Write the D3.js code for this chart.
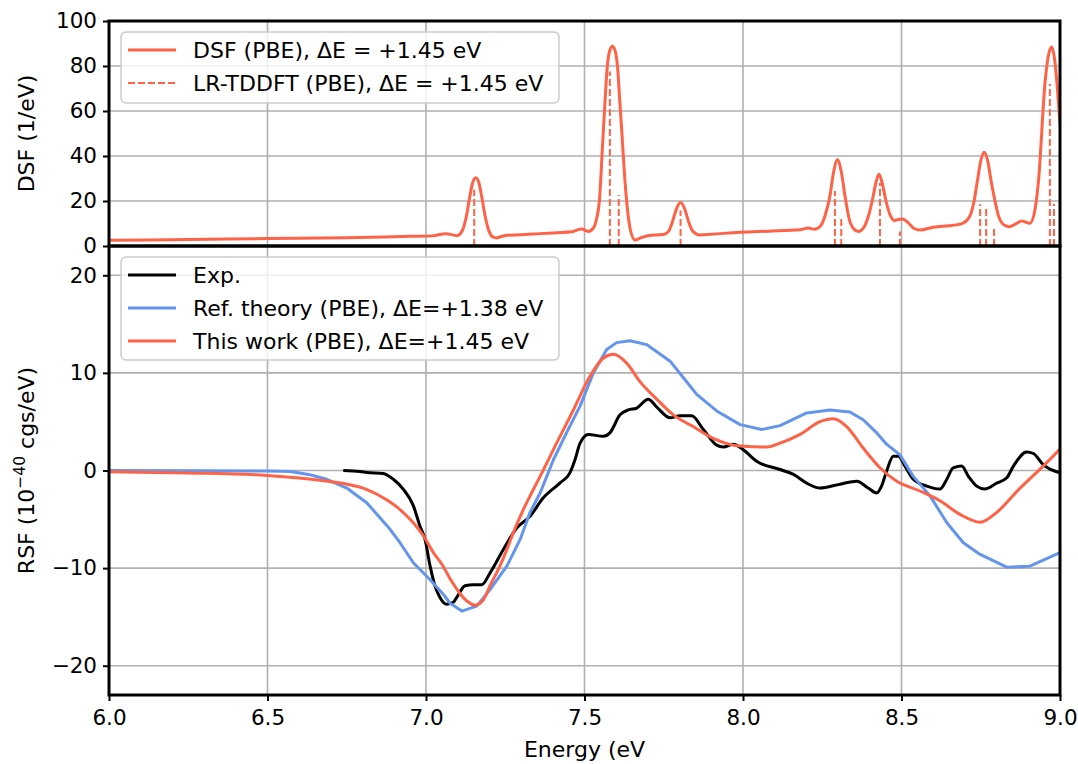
<!DOCTYPE html>
<html>
<head>
<meta charset="utf-8">
<script src="https://cdnjs.cloudflare.com/ajax/libs/d3/7.8.5/d3.min.js"></script>
<style>
  html, body { margin: 0; padding: 0; background: #fff; }
  svg { display: block; font-family: "DejaVu Sans", sans-serif; }
</style>
</head>
<body>
<svg id="chart" width="1078" height="764"></svg>
<script>
// ---------- DATA ----------
const xTicks = [6.0, 6.5, 7.0, 7.5, 8.0, 8.5, 9.0];
const dsfTicks = [0, 20, 40, 60, 80, 100];
const rsfTicks = [-20, -10, 0, 10, 20];

// DSF (PBE) curve, top panel [energy, DSF]
const dsfCurve = [
  [6.00,2.5],[6.25,2.9],[6.50,3.3],[6.75,3.7],[6.95,4.3],[7.02,4.5],[7.063,5.5],[7.098,4.6],
  [7.115,7],[7.127,13],[7.137,21],[7.147,28],[7.157,30.3],[7.167,28],[7.177,21],[7.187,13],
  [7.199,6.5],[7.212,3.9],[7.222,3.6],[7.24,4.3],[7.256,4.8],[7.30,5.0],[7.36,5.5],[7.414,5.9],
  [7.46,6.3],[7.49,7.6],[7.512,6.5],[7.528,8],[7.538,12],[7.547,20],[7.557,45],[7.565,65],
  [7.572,80],[7.580,87],[7.588,88.8],[7.596,87],[7.604,80],[7.611,65],[7.619,48],[7.627,30],
  [7.635,17],[7.645,7],[7.659,2.7],[7.68,3.8],[7.70,4.6],[7.749,5.1],[7.765,6.5],[7.778,11],
  [7.790,16.5],[7.803,19.3],[7.816,16.5],[7.828,11],[7.842,6.5],[7.864,4.9],[7.90,5.2],
  [7.99,6.1],[8.08,6.6],[8.18,7.2],[8.205,8.0],[8.225,7.4],[8.245,9],[8.260,14],[8.274,22],
  [8.286,33],[8.298,38.3],[8.310,33],[8.322,22],[8.335,12],[8.350,7.5],[8.364,6.4],[8.380,8],
  [8.395,13],[8.409,21],[8.419,28],[8.429,31.9],[8.439,28],[8.451,20],[8.465,13.5],[8.478,11.3],
  [8.49,11.8],[8.503,12],[8.52,10.5],[8.54,7.8],[8.558,7.1],[8.60,8.3],[8.65,9.0],[8.674,9.4],
  [8.695,10.2],[8.716,13.4],[8.729,20],[8.739,28.6],[8.750,37.8],[8.761,41.7],[8.772,37.8],
  [8.783,28.6],[8.795,20],[8.806,13.4],[8.825,9.2],[8.84,8.6],[8.86,9.8],[8.879,11.1],
  [8.905,10.1],[8.918,14],[8.932,28.6],[8.953,73],[8.964,85],[8.974,88.5],[8.983,83],
  [8.990,73],[9.0,54]
];

// LR-TDDFT sticks [energy, height]
const tddftSticks = [
  [7.152,25],[7.580,77.6],[7.608,22.7],[7.803,15.8],[8.290,24.5],[8.310,12.6],[8.432,28],
  [8.495,6.4],[8.748,18.6],[8.767,16.8],[8.792,8.5],[8.968,72],[8.981,18.8]
];

// Experimental RSF
const expRSF = [
  [6.739,0],[6.792,-0.1],[6.813,-0.2],[6.865,-0.3],[6.897,-0.9],[6.928,-1.9],[6.96,-3.6],
  [6.981,-5.7],[6.997,-7.06],[7.013,-9.8],[7.028,-11.8],[7.044,-13.0],[7.065,-13.7],[7.086,-13.5],
  [7.097,-13.0],[7.123,-11.8],[7.149,-11.7],[7.176,-11.7],[7.202,-10.5],[7.244,-8.1],[7.286,-5.9],
  [7.328,-4.7],[7.370,-2.8],[7.423,-1.26],[7.454,-0.24],[7.470,1.1],[7.486,2.8],[7.512,3.7],
  [7.559,3.5],[7.580,3.85],[7.612,5.7],[7.638,6.2],[7.665,6.4],[7.701,7.3],[7.728,6.5],
  [7.770,5.4],[7.801,5.6],[7.838,5.6],[7.875,4.2],[7.917,2.6],[7.938,2.4],[7.970,2.7],[8.0,2.15],
  [8.043,0.95],[8.117,0.1],[8.159,-0.4],[8.201,-1.3],[8.243,-1.8],[8.306,-1.4],[8.359,-1.1],
  [8.395,-1.8],[8.422,-2.3],[8.437,-1.6],[8.453,-0.07],[8.474,1.46],[8.490,1.46],[8.511,0.45],
  [8.537,-0.9],[8.580,-1.6],[8.621,-1.9],[8.643,-0.9],[8.663,0.27],[8.690,0.45],[8.711,-0.6],
  [8.737,-1.6],[8.763,-1.9],[8.800,-1.3],[8.832,-0.75],[8.853,0.45],[8.895,1.9],[8.916,1.74],
  [8.947,0.6],[9.0,-0.24]
];

// Reference theory RSF (PBE, dE=+1.38 eV)
const refRSF = [
  [6.00,0],[6.50,-0.05],[6.571,-0.1],[6.63,-0.4],[6.687,-0.9],[6.75,-1.8],[6.813,-3.3],
  [6.886,-6.0],[6.918,-7.4],[6.96,-9.45],[7.013,-11.2],[7.055,-12.7],[7.076,-13.6],[7.113,-14.4],
  [7.160,-13.9],[7.202,-12.2],[7.255,-9.8],[7.297,-7.06],[7.328,-4.3],[7.36,-2.3],[7.402,1.1],
  [7.444,3.9],[7.486,6.6],[7.528,10.0],[7.570,12.4],[7.601,13.1],[7.644,13.3],[7.696,12.9],
  [7.770,11.2],[7.812,9.5],[7.854,7.8],[7.917,6.1],[7.991,4.7],[8.059,4.2],[8.117,4.6],
  [8.201,5.9],[8.274,6.2],[8.337,6.0],[8.379,5.2],[8.422,3.85],[8.453,2.7],[8.495,1.6],
  [8.537,-0.6],[8.590,-2.6],[8.643,-5.35],[8.695,-7.4],[8.748,-8.6],[8.832,-9.9],[8.905,-9.8],
  [9.0,-8.4]
];

// This work RSF (PBE, dE=+1.45 eV)
const workRSF = [
  [6.00,-0.13],[6.25,-0.25],[6.50,-0.5],[6.69,-1.1],[6.75,-1.4],[6.81,-1.9],[6.876,-3.0],
  [6.918,-4.0],[6.96,-5.35],[6.992,-6.7],[7.023,-8.4],[7.05,-9.6],[7.08,-11.3],[7.107,-12.6],
  [7.13,-13.4],[7.155,-13.8],[7.18,-13.3],[7.202,-11.8],[7.23,-10.0],[7.255,-8.1],[7.28,-6.0],
  [7.307,-4.0],[7.333,-2.3],[7.36,-0.6],[7.412,2.8],[7.465,6.2],[7.517,9.65],[7.559,11.5],
  [7.591,11.9],[7.633,11.0],[7.675,9.1],[7.728,7.3],[7.780,5.7],[7.843,4.5],[7.906,3.3],
  [7.991,2.5],[8.075,2.4],[8.117,2.8],[8.18,3.7],[8.243,5.0],[8.285,5.3],[8.327,4.5],
  [8.379,2.3],[8.432,0.28],[8.485,-1.1],[8.558,-2.1],[8.621,-3.1],[8.685,-4.5],[8.748,-5.3],
  [8.80,-4.3],[8.874,-1.8],[8.947,0.45],[9.0,2.2]
];

const topLegend = ["DSF (PBE), \u0394E = +1.45 eV", "LR-TDDFT (PBE), \u0394E = +1.45 eV"];
const bottomLegend = ["Exp.", "Ref. theory (PBE), \u0394E=+1.38 eV", "This work (PBE), \u0394E=+1.45 eV"];

// ---------- LAYOUT / STYLE ----------
const RED = "#ff6347", BLUE = "#6495ed", BLACK = "#000000", GRID = "#b0b0b0";
const X0 = 109, X1 = 1060, T0 = 21, T1 = 246, B0 = 246, B1 = 695;
const TICK_FS = 21.5, LAB_FS = 22;

const svg = d3.select("#chart");
const x = d3.scaleLinear().domain([6, 9]).range([X0, X1]);
const yTop = d3.scaleLinear().domain([0, 100]).range([T1, T0]);
const yBot = d3.scaleLinear().domain([-23, 23]).range([B1, B0]);
const fmtMinus = s => s.replace("-", "\u2212");

const defs = svg.append("defs");
defs.append("clipPath").attr("id", "clipTop").append("rect")
  .attr("x", X0).attr("y", T0).attr("width", X1 - X0).attr("height", T1 - T0);
defs.append("clipPath").attr("id", "clipBot").append("rect")
  .attr("x", X0).attr("y", B0).attr("width", X1 - X0).attr("height", B1 - B0);

function grid(yScale, yTicks, yA, yB) {
  const g = svg.append("g");
  g.selectAll("line.v").data(xTicks).enter().append("line")
    .attr("x1", d => x(d)).attr("x2", d => x(d)).attr("y1", yA).attr("y2", yB)
    .attr("stroke", GRID).attr("stroke-width", 1.6);
  g.selectAll("line.h").data(yTicks).enter().append("line")
    .attr("x1", X0).attr("x2", X1).attr("y1", d => yScale(d)).attr("y2", d => yScale(d))
    .attr("stroke", GRID).attr("stroke-width", 1.6);
}
grid(yTop, dsfTicks, T0, T1);
grid(yBot, rsfTicks, B0, B1);

// ---------- TOP PANEL DATA ----------
const gTop = svg.append("g").attr("clip-path", "url(#clipTop)");
gTop.selectAll("line.stick").data(tddftSticks).enter().append("line")
  .attr("x1", d => x(d[0])).attr("x2", d => x(d[0]))
  .attr("y1", yTop(0)).attr("y2", d => yTop(d[1]))
  .attr("stroke", RED).attr("stroke-width", 2).attr("stroke-dasharray", "7,3");
const lineTop = d3.line().x(d => x(d[0])).y(d => yTop(d[1])).curve(d3.curveMonotoneX);
gTop.append("path").datum(dsfCurve).attr("d", lineTop)
  .attr("fill", "none").attr("stroke", RED).attr("stroke-width", 3).attr("stroke-linejoin", "round");

// ---------- BOTTOM PANEL DATA ----------
const gBot = svg.append("g").attr("clip-path", "url(#clipBot)");
const lineBotSmooth = d3.line().x(d => x(d[0])).y(d => yBot(d[1])).curve(d3.curveMonotoneX);
const lineBotLin = d3.line().x(d => x(d[0])).y(d => yBot(d[1]));
gBot.append("path").datum(expRSF).attr("d", lineBotSmooth)
  .attr("fill", "none").attr("stroke", BLACK).attr("stroke-width", 3).attr("stroke-linejoin", "round");
gBot.append("path").datum(refRSF).attr("d", lineBotLin)
  .attr("fill", "none").attr("stroke", BLUE).attr("stroke-width", 3).attr("stroke-linejoin", "round");
gBot.append("path").datum(workRSF).attr("d", lineBotSmooth)
  .attr("fill", "none").attr("stroke", RED).attr("stroke-width", 3).attr("stroke-linejoin", "round");

// ---------- AXES ----------
function styleAxis(g) {
  g.select(".domain").remove();
  g.selectAll(".tick line").attr("stroke", "#000").attr("stroke-width", 2);
  g.selectAll(".tick text").attr("fill", "#000").attr("font-size", TICK_FS)
    .attr("font-family", "DejaVu Sans");
}
svg.append("g").attr("transform", `translate(${X0},0)`)
  .call(d3.axisLeft(yTop).tickValues(dsfTicks).tickSize(6).tickPadding(6).tickFormat(d3.format("d")))
  .call(styleAxis);
svg.append("g").attr("transform", `translate(${X0},0)`)
  .call(d3.axisLeft(yBot).tickValues(rsfTicks).tickSize(6).tickPadding(6).tickFormat(d => fmtMinus(String(d))))
  .call(styleAxis);
svg.append("g").attr("transform", `translate(0,${B1})`)
  .call(d3.axisBottom(x).tickValues(xTicks).tickSize(6).tickPadding(9).tickFormat(d3.format(".1f")))
  .call(styleAxis);

// Frames
function frame(yA, yB) {
  svg.append("rect").attr("x", X0).attr("y", yA).attr("width", X1 - X0).attr("height", yB - yA)
    .attr("fill", "none").attr("stroke", "#000").attr("stroke-width", 3);
}
frame(T0, T1);
frame(B0, B1);

// Axis labels
svg.append("text").attr("transform", `translate(34,${(T0 + T1) / 2}) rotate(-90)`)
  .attr("text-anchor", "middle").attr("font-size", LAB_FS).attr("fill", "#000")
  .text("DSF (1/eV)");
const rsf = svg.append("text").attr("transform", `translate(34,${(B0 + B1) / 2}) rotate(-90)`)
  .attr("text-anchor", "middle").attr("font-size", LAB_FS).attr("fill", "#000");
rsf.append("tspan").text("RSF (10");
rsf.append("tspan").attr("font-size", 15.5).attr("dy", -9).text("\u221240");
rsf.append("tspan").attr("dy", 9).text(" cgs/eV)");
svg.append("text").attr("x", (X0 + X1) / 2).attr("y", 757)
  .attr("text-anchor", "middle").attr("font-size", LAB_FS).attr("fill", "#000")
  .text("Energy (eV");

// ---------- LEGENDS ----------
function legend(y0, h, items) {
  const g = svg.append("g");
  g.append("rect").attr("x", 121).attr("y", y0).attr("width", 438).attr("height", h)
    .attr("rx", 5).attr("fill", "#fff").attr("fill-opacity", 0.8)
    .attr("stroke", "#cccccc").attr("stroke-width", 1.5);
  items.forEach((it, i) => {
    const cy = y0 + 18 + i * 33;
    g.append("line").attr("x1", 128).attr("x2", 176).attr("y1", cy).attr("y2", cy)
      .attr("stroke", it.color).attr("stroke-width", it.dash ? 2 : 3)
      .attr("stroke-dasharray", it.dash || null);
    g.append("text").attr("x", 193).attr("y", cy + 8).attr("font-size", LAB_FS)
      .attr("fill", "#000").text(it.label);
  });
}
legend(32, 71, [
  { label: topLegend[0], color: RED },
  { label: topLegend[1], color: RED, dash: "7,3" }
]);
legend(257, 103, [
  { label: bottomLegend[0], color: BLACK },
  { label: bottomLegend[1], color: BLUE },
  { label: bottomLegend[2], color: RED }
]);
</script>
</body>
</html>
